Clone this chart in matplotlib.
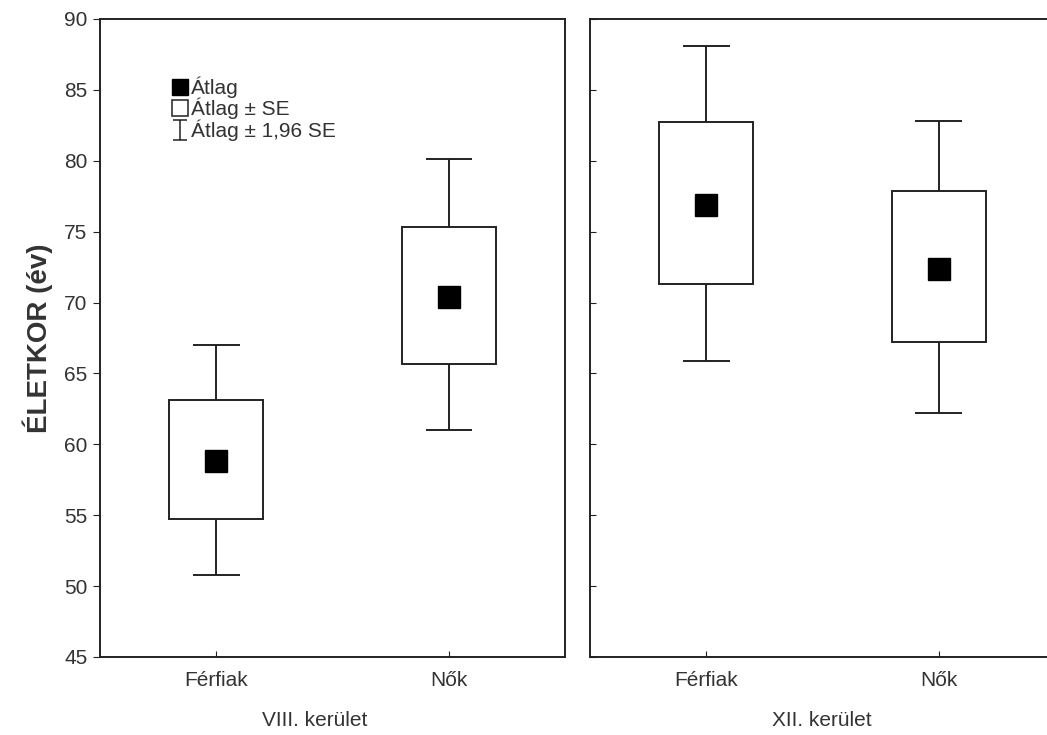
import matplotlib.pyplot as plt
from matplotlib.path import Path

plt.rcParams["font.family"] = ["Liberation Sans", "DejaVu Sans"]

# values (age, years)
groups = ["VIII. kerület", "XII. kerület"]
categories = ["Férfiak", "Nők"]
means = [[58.8, 70.4], [76.9, 72.4]]
se_low = [[54.7, 65.7], [71.3, 67.2]]
se_high = [[63.1, 75.3], [82.7, 77.9]]
ci_low = [[50.8, 61.0], [65.9, 62.2]]
ci_high = [[67.0, 80.1], [88.1, 82.8]]
yticks = [45, 50, 55, 60, 65, 70, 75, 80, 85, 90]
legend_labels = ["Átlag", "Átlag ± SE", "Átlag ± 1,96 SE"]

W, H = 1047, 735
fig = plt.figure(figsize=(W / 100, H / 100), dpi=100)

line_col = "#222222"
text_col = "#333333"

# axes positions in pixels: left, top, width, height
panels = [(100, 19, 465, 638), (590, 19, 465, 638)]
label_x = [315, 822]

for i, (px, py, pw, ph) in enumerate(panels):
    ax = fig.add_axes([px / W, 1 - (py + ph) / H, pw / W, ph / H])
    x = list(range(len(categories)))

    ax.bar(x, [h - l for h, l in zip(se_high[i], se_low[i])], bottom=se_low[i],
           width=0.405, color="white", edgecolor=line_col, linewidth=1.4, zorder=2)
    ax.vlines(x, ci_low[i], se_low[i], color=line_col, linewidth=1.4, zorder=1)
    ax.vlines(x, se_high[i], ci_high[i], color=line_col, linewidth=1.4, zorder=1)
    ax.hlines(ci_low[i], [v - 0.1 for v in x], [v + 0.1 for v in x],
              color=line_col, linewidth=1.4)
    ax.hlines(ci_high[i], [v - 0.1 for v in x], [v + 0.1 for v in x],
              color=line_col, linewidth=1.4)
    ax.plot(x, means[i], "s", color="black", ms=16, zorder=3)

    ax.set_xlim(-0.5, 1.5)
    ax.set_ylim(45, 90)
    ax.set_yticks(yticks)
    ax.set_xticks(x)
    ax.set_xticklabels(categories, fontsize=15, color=text_col)
    ax.tick_params(axis="x", direction="in", length=4, pad=10, color=line_col)
    for s in ax.spines.values():
        s.set_color(line_col)
        s.set_linewidth(1.4)

    if i == 0:
        ax.tick_params(axis="y", direction="out", length=5, labelsize=15,
                       labelcolor=text_col, color=line_col, pad=4)
        ax.set_ylabel("ÉLETKOR (év)", fontsize=20, fontweight="bold",
                      color=text_col, labelpad=8)

        # hand-built legend in the upper left corner (pixel positions)
        def to_ax(xp, yp):
            return (xp - px) / pw, 1 - (yp - py) / ph

        ibeam = Path([(-0.7, -1), (0.7, -1), (0, -1), (0, 1), (-0.7, 1), (0.7, 1)],
                     [Path.MOVETO, Path.LINETO, Path.MOVETO, Path.LINETO,
                      Path.MOVETO, Path.LINETO])
        rows = [87, 108, 130]
        styles = [dict(marker="s", ms=11, mfc="black", mec="black"),
                  dict(marker="s", ms=12, mfc="white", mec=line_col, mew=1.1),
                  dict(marker=ibeam, ms=14, mfc="none", mec=line_col, mew=1.1)]
        for yp, lab, st in zip(rows, legend_labels, styles):
            ax.plot(*to_ax(180, yp), ls="none", transform=ax.transAxes,
                    clip_on=False, **st)
            ax.text(*to_ax(191, yp), lab, transform=ax.transAxes, ha="left",
                    va="center", fontsize=15, color=text_col)
    else:
        ax.tick_params(axis="y", direction="in", length=4, labelleft=False,
                       color=line_col)

    fig.text(label_x[i] / W, 1 - 720 / H, groups[i], ha="center", va="center",
             fontsize=15, color=text_col)

fig.savefig("out.png", dpi=100, facecolor="white")
